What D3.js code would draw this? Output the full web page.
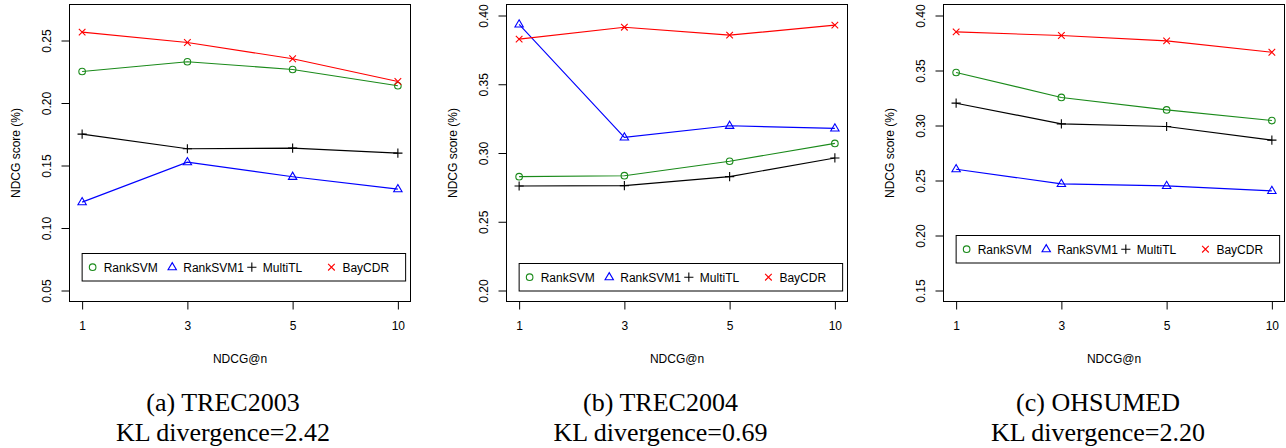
<!DOCTYPE html>
<html>
<head>
<meta charset="utf-8">
<script src="https://cdn.jsdelivr.net/npm/d3@7/dist/d3.min.js"></script>
<style>
  body { margin: 0; background: #fff; }
  svg text { font-family: "Liberation Sans", Arial, Helvetica, sans-serif; }
  svg text.caption { font-family: "Liberation Serif", "Times New Roman", serif; }
</style>
</head>
<body>
<svg id="chart" width="1286" height="448"></svg>
<script>
// x categories (NDCG@n)
const ndcgAt = ['1', '3', '5', '10'];
const seriesNames = ['RankSVM', 'RankSVM1', 'MultiTL', 'BayCDR'];

// (a) TREC2003
const trec2003RankSVM  = [0.2252, 0.2330, 0.2268, 0.2138];
const trec2003RankSVM1 = [0.1207, 0.1527, 0.1410, 0.1311];
const trec2003MultiTL  = [0.1751, 0.1634, 0.1639, 0.1599];
const trec2003BayCDR   = [0.2567, 0.2484, 0.2354, 0.2172];

// (b) TREC2004
const trec2004RankSVM  = [0.2828, 0.2835, 0.2940, 0.3070];
const trec2004RankSVM1 = [0.3935, 0.3114, 0.3198, 0.3179];
const trec2004MultiTL  = [0.2760, 0.2763, 0.2828, 0.2964];
const trec2004BayCDR   = [0.3828, 0.3915, 0.3857, 0.3930];

// (c) OHSUMED
const ohsumedRankSVM  = [0.3482, 0.3255, 0.3142, 0.3045];
const ohsumedRankSVM1 = [0.2603, 0.2469, 0.2451, 0.2406];
const ohsumedMultiTL  = [0.3203, 0.3015, 0.2991, 0.2867];
const ohsumedBayCDR   = [0.3851, 0.3818, 0.3769, 0.3666];

// axis limits, ticks, legend anchor (data units) and captions
const yLimits = [[0.05, 0.27], [0.20, 0.40], [0.15, 0.40]];
const yTickValues = [
    [0.05, 0.10, 0.15, 0.20, 0.25],
    [0.20, 0.25, 0.30, 0.35, 0.40],
    [0.15, 0.20, 0.25, 0.30, 0.35, 0.40]];
const legendTop = [0.08, 0.22, 0.20];
const captionTitles = ['(a) TREC2003', '(b) TREC2004', '(c) OHSUMED'];
const klDivergence = ['2.42', '0.69', '2.20'];

const panelSeries = [
    [trec2003RankSVM, trec2003RankSVM1, trec2003MultiTL, trec2003BayCDR],
    [trec2004RankSVM, trec2004RankSVM1, trec2004MultiTL, trec2004BayCDR],
    [ohsumedRankSVM, ohsumedRankSVM1, ohsumedMultiTL, ohsumedBayCDR]];

const colors = ['#1a8a1a', '#0000ff', '#000000', '#ff0000'];
const symbols = ['circle', 'triangle', 'plus', 'cross'];

const boxLefts = [69.5, 506.5, 943.5];
const captionCenters = [223, 660.5, 1098];
const boxW = 341, boxTop = 4.5, boxBottom = 301.5;

const svg = d3.select('#chart');

function drawSymbol(g, kind, x, y, color) {
    if (kind === 'circle') {
        g.append('circle').attr('cx', x).attr('cy', y).attr('r', 3.3)
            .attr('fill', 'none').attr('stroke', color).attr('stroke-width', 1.1);
    } else if (kind === 'triangle') {
        g.append('path')
            .attr('d', `M${x},${y - 4.6}L${x + 4.2},${y + 2.6}L${x - 4.2},${y + 2.6}Z`)
            .attr('fill', 'none').attr('stroke', color).attr('stroke-width', 1.1);
    } else if (kind === 'plus') {
        g.append('path')
            .attr('d', `M${x - 4.6},${y}H${x + 4.6}M${x},${y - 4.6}V${y + 4.6}`)
            .attr('stroke', color).attr('stroke-width', 1.1);
    } else {
        g.append('path')
            .attr('d', `M${x - 3.3},${y - 3.3}L${x + 3.3},${y + 3.3}M${x - 3.3},${y + 3.3}L${x + 3.3},${y - 3.3}`)
            .attr('stroke', color).attr('stroke-width', 1.1);
    }
}

panelSeries.forEach((series, p) => {
    const left = boxLefts[p], right = left + boxW;
    const g = svg.append('g');

  //R-style 4% axis extension
    const lim = yLimits[p];
    const ext = (lim[1] - lim[0]) * 0.04;
    const y = d3.scaleLinear().domain([lim[0] - ext, lim[1] + ext]).range([boxBottom, boxTop]);
    const x = d3.scalePoint().domain(ndcgAt).range([left, right]).padding(0.12);

  //box
    g.append('rect')
        .attr('x', left).attr('y', boxTop)
        .attr('width', boxW).attr('height', boxBottom - boxTop)
        .attr('fill', 'none').attr('stroke', '#000').attr('stroke-width', 1);

  //x axis
    const xAxis = d3.axisBottom(x).tickSize(8).tickPadding(14);
    const xg = g.append('g').attr('transform', `translate(0,${boxBottom})`).call(xAxis);
    xg.select('.domain').remove();
    xg.selectAll('text').attr('font-size', 12).attr('fill', '#000')
        .attr('dy', null).attr('y', 28.5);

  //y axis
    const yAxis = d3.axisLeft(y).tickValues(yTickValues[p]).tickFormat(d3.format('.2f')).tickSize(8);
    const yg = g.append('g').attr('transform', `translate(${left},0)`).call(yAxis);
    yg.select('.domain').remove();
    yg.selectAll('.tick text')
        .attr('x', null).attr('dy', null)
        .attr('text-anchor', 'middle')
        .attr('font-size', 12).attr('fill', '#000')
        .attr('transform', 'translate(-18.5,0) rotate(-90)');

  //axis titles
    g.append('text')
        .attr('x', (left + right) / 2).attr('y', 363)
        .attr('text-anchor', 'middle').attr('font-size', 12)
        .text('NDCG@n');
    g.append('text')
        .attr('transform', `translate(${left - 49.5},${(boxTop + boxBottom) / 2}) rotate(-90)`)
        .attr('text-anchor', 'middle').attr('font-size', 12)
        .text('NDCG score (%)');

  //lines and points
    const line = d3.line().x((d, i) => x(ndcgAt[i])).y(d => y(d));
    series.forEach((vals, s) => {
        g.append('path').datum(vals)
            .attr('d', line)
            .attr('fill', 'none').attr('stroke', colors[s]).attr('stroke-width', 1.1);
        vals.forEach((v, i) => drawSymbol(g, symbols[s], x(ndcgAt[i]), y(v), colors[s]));
    });

  //legend (horizontal, anchored at x=1)
    const lx = x(ndcgAt[0]), ly = Math.round(y(legendTop[p])) + 0.5;
    g.append('rect')
        .attr('x', lx).attr('y', ly).attr('width', 323.5).attr('height', 27.5)
        .attr('fill', '#fff').attr('stroke', '#000').attr('stroke-width', 1);
    seriesNames.forEach((name, s) => {
        const ix = lx + 10.5 + s * 79.6;
        drawSymbol(g, symbols[s], ix, ly + 13.7, colors[s]);
        g.append('text')
            .attr('x', ix + 11).attr('y', ly + 18)
            .attr('font-size', 12)
            .text(name);
    });

  //caption
    g.append('text').attr('class', 'caption')
        .attr('x', captionCenters[p]).attr('y', 411)
        .attr('text-anchor', 'middle').attr('font-size', 26)
        .text(captionTitles[p]);
    g.append('text').attr('class', 'caption')
        .attr('x', captionCenters[p]).attr('y', 441)
        .attr('text-anchor', 'middle').attr('font-size', 26)
        .text(`KL divergence=${klDivergence[p]}`);
});
</script>
</body>
</html>
